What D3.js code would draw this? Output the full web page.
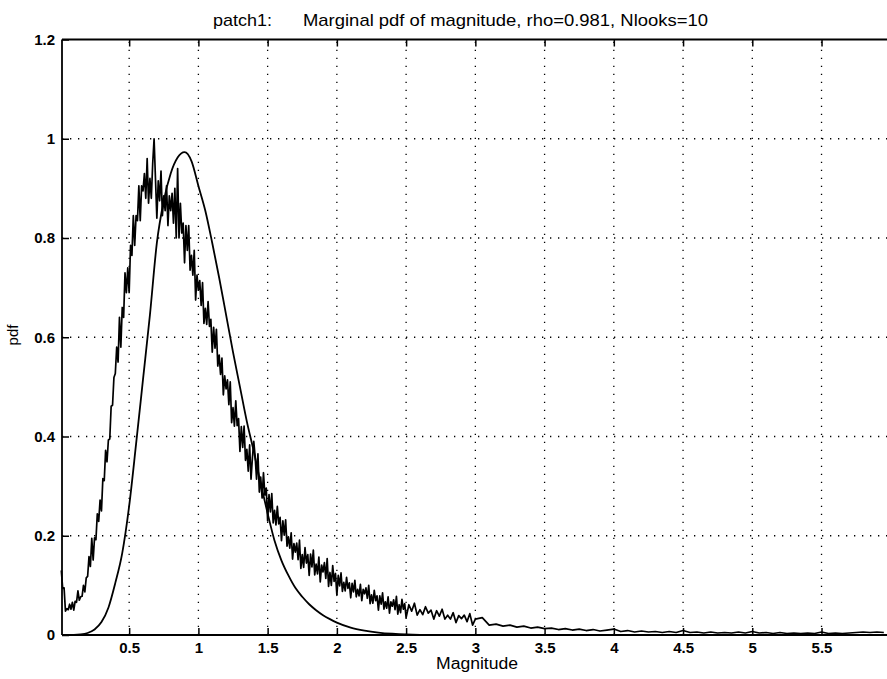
<!DOCTYPE html>
<html>
<head>
<meta charset="utf-8">
<script src="https://cdn.jsdelivr.net/npm/d3@7"></script>
<style>
  html, body { margin: 0; padding: 0; background: #fff; }
  svg { display: block; }
  text { font-family: "Liberation Sans", Arial, Helvetica, sans-serif; fill: #000; }
</style>
</head>
<body>
<svg id="chart" width="887" height="679"></svg>
<script>
// ---------------- data ----------------
const titleLeft = "patch1:";
const titleRight = "Marginal pdf of magnitude, rho=0.981, Nlooks=10";
const xLabel = "Magnitude";
const yLabel = "pdf";
const xTicks = [0.5, 1, 1.5, 2, 2.5, 3, 3.5, 4, 4.5, 5, 5.5];
const xTickLabels = ["0.5", "1", "1.5", "2", "2.5", "3", "3.5", "4", "4.5", "5", "5.5"];
const yTicks = [0, 0.2, 0.4, 0.6, 0.8, 1, 1.2];
const yTickLabels = ["0", "0.2", "0.4", "0.6", "0.8", "1", "1.2"];

// theoretical (smooth) pdf, read every 0.05
const smoothMagnitude = [0.015, 0.05, 0.1, 0.15, 0.2, 0.25, 0.3, 0.35, 0.4, 0.45, 0.5, 0.55, 0.6, 0.65, 0.7,
  0.75, 0.8, 0.85, 0.9, 0.95, 1.0, 1.05, 1.1, 1.15, 1.2, 1.25, 1.3, 1.35, 1.4, 1.45, 1.5, 1.55, 1.6,
  1.65, 1.7, 1.75, 1.8, 1.85, 1.9, 1.95, 2.0, 2.1, 2.2, 2.3, 2.4, 2.5, 2.6, 3.0, 4.0, 5.0, 5.98];
const smoothPdf = [0, 0, 0, 0.001, 0.004, 0.011, 0.026, 0.055, 0.105, 0.165, 0.26, 0.385, 0.515, 0.645, 0.79,
  0.875, 0.93, 0.962, 0.973, 0.955, 0.905, 0.855, 0.79, 0.72, 0.645, 0.57, 0.50, 0.43, 0.37, 0.305, 0.245, 0.19, 0.15,
  0.12, 0.095, 0.077, 0.062, 0.05, 0.04, 0.032, 0.025, 0.015, 0.009, 0.005, 0.0025, 0.001, 0.0004, 0, 0, 0, 0];

// measured histogram, read every 0.01 from 0.01 to 2.50
const histFineStart = 0.01, histFineStep = 0.01;
const histFinePdf = [
  0.13, 0.094, 0.095, 0.048, 0.053, 0.051, 0.062, 0.052, 0.066, 0.05,
  0.068, 0.066, 0.089, 0.07, 0.077, 0.078, 0.10, 0.087, 0.115, 0.118,
  0.158, 0.138, 0.195, 0.151, 0.196, 0.192, 0.244, 0.229, 0.272, 0.25,
  0.315, 0.311, 0.372, 0.349, 0.393, 0.395, 0.461, 0.463, 0.519, 0.527,
  0.58, 0.55, 0.64, 0.58, 0.66, 0.64, 0.73, 0.69, 0.74, 0.69,
  0.785, 0.765, 0.845, 0.785, 0.845, 0.835, 0.905, 0.835, 0.905, 0.895,
  0.93, 0.88, 0.96, 0.87, 0.92, 0.88, 0.95, 1.00, 0.92, 0.84,
  0.915, 0.875, 0.935, 0.845, 0.885, 0.855, 0.905, 0.825, 0.885, 0.855,
  0.89, 0.83, 0.90, 0.80, 0.94, 0.80, 0.87, 0.81, 0.83, 0.75,
  0.825, 0.775, 0.825, 0.735, 0.765, 0.725, 0.775, 0.675, 0.725, 0.695,
  0.714, 0.664, 0.71, 0.628, 0.658, 0.626, 0.672, 0.622, 0.636, 0.57,
  0.62, 0.578, 0.616, 0.542, 0.564, 0.525, 0.558, 0.484, 0.522, 0.496,
  0.514, 0.464, 0.51, 0.428, 0.458, 0.421, 0.472, 0.422, 0.436, 0.37,
  0.42, 0.378, 0.421, 0.352, 0.374, 0.33, 0.383, 0.314, 0.357, 0.39,
  0.359, 0.314, 0.365, 0.288, 0.318, 0.276, 0.327, 0.282, 0.296, 0.23,
  0.283, 0.248, 0.285, 0.226, 0.251, 0.222, 0.259, 0.224, 0.237, 0.19,
  0.23, 0.201, 0.232, 0.179, 0.198, 0.175, 0.206, 0.153, 0.184, 0.167,
  0.185, 0.152, 0.191, 0.134, 0.162, 0.136, 0.176, 0.145, 0.162, 0.12,
  0.163, 0.137, 0.171, 0.121, 0.143, 0.123, 0.157, 0.107, 0.141, 0.127,
  0.146, 0.114, 0.154, 0.098, 0.126, 0.10, 0.14, 0.108, 0.124, 0.08,
  0.12, 0.099, 0.125, 0.088, 0.106, 0.089, 0.116, 0.094, 0.105, 0.075,
  0.104, 0.087, 0.11, 0.077, 0.092, 0.079, 0.102, 0.069, 0.092, 0.083,
  0.095, 0.074, 0.10, 0.063, 0.081, 0.064, 0.09, 0.069, 0.079, 0.05,
  0.079, 0.062, 0.085, 0.052, 0.067, 0.054, 0.077, 0.044, 0.067, 0.058,
  0.071, 0.051, 0.078, 0.042, 0.061, 0.045, 0.072, 0.052, 0.063, 0.035
];
// measured histogram, read every 0.02 from 2.52 to 3.00
const histMidStart = 2.52, histMidStep = 0.02;
const histMidPdf = [
  0.061, 0.048, 0.064, 0.04, 0.051, 0.041, 0.057, 0.044, 0.05, 0.032,
  0.049, 0.038, 0.052, 0.032, 0.04, 0.032, 0.045, 0.025, 0.039, 0.033,
  0.04, 0.027, 0.043, 0.02, 0.032
];
// measured histogram tail, read every 0.05 from 3.05 to 5.95
const histTailStart = 3.05, histTailStep = 0.05;
const histTailPdf = [
  0.035, 0.02, 0.022, 0.018, 0.02, 0.016, 0.018, 0.014, 0.016, 0.013,
  0.014, 0.011, 0.013, 0.01, 0.012, 0.009, 0.011, 0.008, 0.01, 0.012,
  0.007, 0.009, 0.006, 0.008, 0.006, 0.007, 0.005, 0.007, 0.005, 0.009,
  0.005, 0.006, 0.004, 0.006, 0.004, 0.005, 0.004, 0.006, 0.004, 0.007,
  0.004, 0.005, 0.003, 0.005, 0.003, 0.004, 0.003, 0.004, 0.003, 0.006,
  0.003, 0.004, 0.003, 0.004, 0.005, 0.006, 0.005, 0.006, 0.005
];

// ---------------- chart ----------------
(function () {
const svg = d3.select("#chart");
const mL = 62, mR = 888, mT = 39.5, mB = 635;
const x = d3.scaleLinear().domain([0.015, 5.98]).range([mL, mR]);
const y = d3.scaleLinear().domain([0, 1.2]).range([mB, mT]);

const histData = histFinePdf.map((v, i) => [histFineStart + i * histFineStep, v])
  .concat(histMidPdf.map((v, i) => [histMidStart + i * histMidStep, v]))
  .concat(histTailPdf.map((v, i) => [histTailStart + i * histTailStep, v]));
const smoothData = smoothMagnitude.map((m, i) => [m, smoothPdf[i]]);

// grid (dotted)
const grid = svg.append("g").attr("stroke", "#000").attr("stroke-width", 1.3)
  .attr("stroke-dasharray", "1.3,6.7").attr("fill", "none");
xTicks.forEach(t => grid.append("line")
  .attr("x1", x(t)).attr("x2", x(t)).attr("y1", mB).attr("y2", mT));
yTicks.slice(1, -1).forEach(t => grid.append("line")
  .attr("x1", mL).attr("x2", mR).attr("y1", y(t)).attr("y2", y(t)));

// axes (MATLAB-style inward ticks)
const axB = svg.append("g").attr("transform", `translate(0,${mB})`)
  .call(d3.axisBottom(x).tickValues(xTicks).tickSize(-7).tickPadding(7)
    .tickFormat((d, i) => xTickLabels[i]));
const axT = svg.append("g").attr("transform", `translate(0,${mT})`)
  .call(d3.axisTop(x).tickValues(xTicks).tickSize(-7).tickFormat(""));
const axL = svg.append("g").attr("transform", `translate(${mL},0)`)
  .call(d3.axisLeft(y).tickValues(yTicks).tickSize(-7).tickPadding(7)
    .tickFormat((d, i) => yTickLabels[i]));
[axB, axT, axL].forEach(a => {
  a.select(".domain").remove();
  a.selectAll(".tick line").attr("stroke", "#000").attr("stroke-width", 1.5);
  a.selectAll("text").style("font-size", "15px").attr("font-weight", "bold").attr("fill", "#000")
    .style("font-family", "'Liberation Sans', Arial, sans-serif");
});
svg.append("line").attr("x1", mL).attr("x2", mL).attr("y1", mT).attr("y2", mB)
  .attr("stroke", "#000").attr("stroke-width", 1.8);
svg.append("line").attr("x1", mL).attr("x2", mR).attr("y1", mB).attr("y2", mB)
  .attr("stroke", "#000").attr("stroke-width", 2);
svg.append("line").attr("x1", mL).attr("x2", mR).attr("y1", mT).attr("y2", mT)
  .attr("stroke", "#000").attr("stroke-width", 2);

// lines
const line = d3.line().x(d => x(d[0])).y(d => y(d[1]));
svg.append("path").datum(histData).attr("d", line)
  .attr("fill", "none").attr("stroke", "#000").attr("stroke-width", 1.7).attr("stroke-linejoin", "round");
svg.append("path").datum(smoothData).attr("d", line.curve(d3.curveMonotoneX))
  .attr("fill", "none").attr("stroke", "#000").attr("stroke-width", 1.8);

// titles
svg.append("text").attr("x", 213).attr("y", 26).attr("textLength", 59).attr("lengthAdjust", "spacingAndGlyphs")
  .style("font-size", "17px").text(titleLeft);
svg.append("text").attr("x", 303).attr("y", 26).attr("textLength", 405).attr("lengthAdjust", "spacingAndGlyphs")
  .style("font-size", "17px").text(titleRight);
svg.append("text").attr("x", 477).attr("y", 669).attr("text-anchor", "middle")
  .attr("textLength", 82).attr("lengthAdjust", "spacingAndGlyphs")
  .style("font-size", "16px").text(xLabel);
svg.append("text").attr("transform", "translate(18,335) rotate(-90)").attr("text-anchor", "middle")
  .style("font-size", "15px").text(yLabel);
})();
</script>
</body>
</html>
